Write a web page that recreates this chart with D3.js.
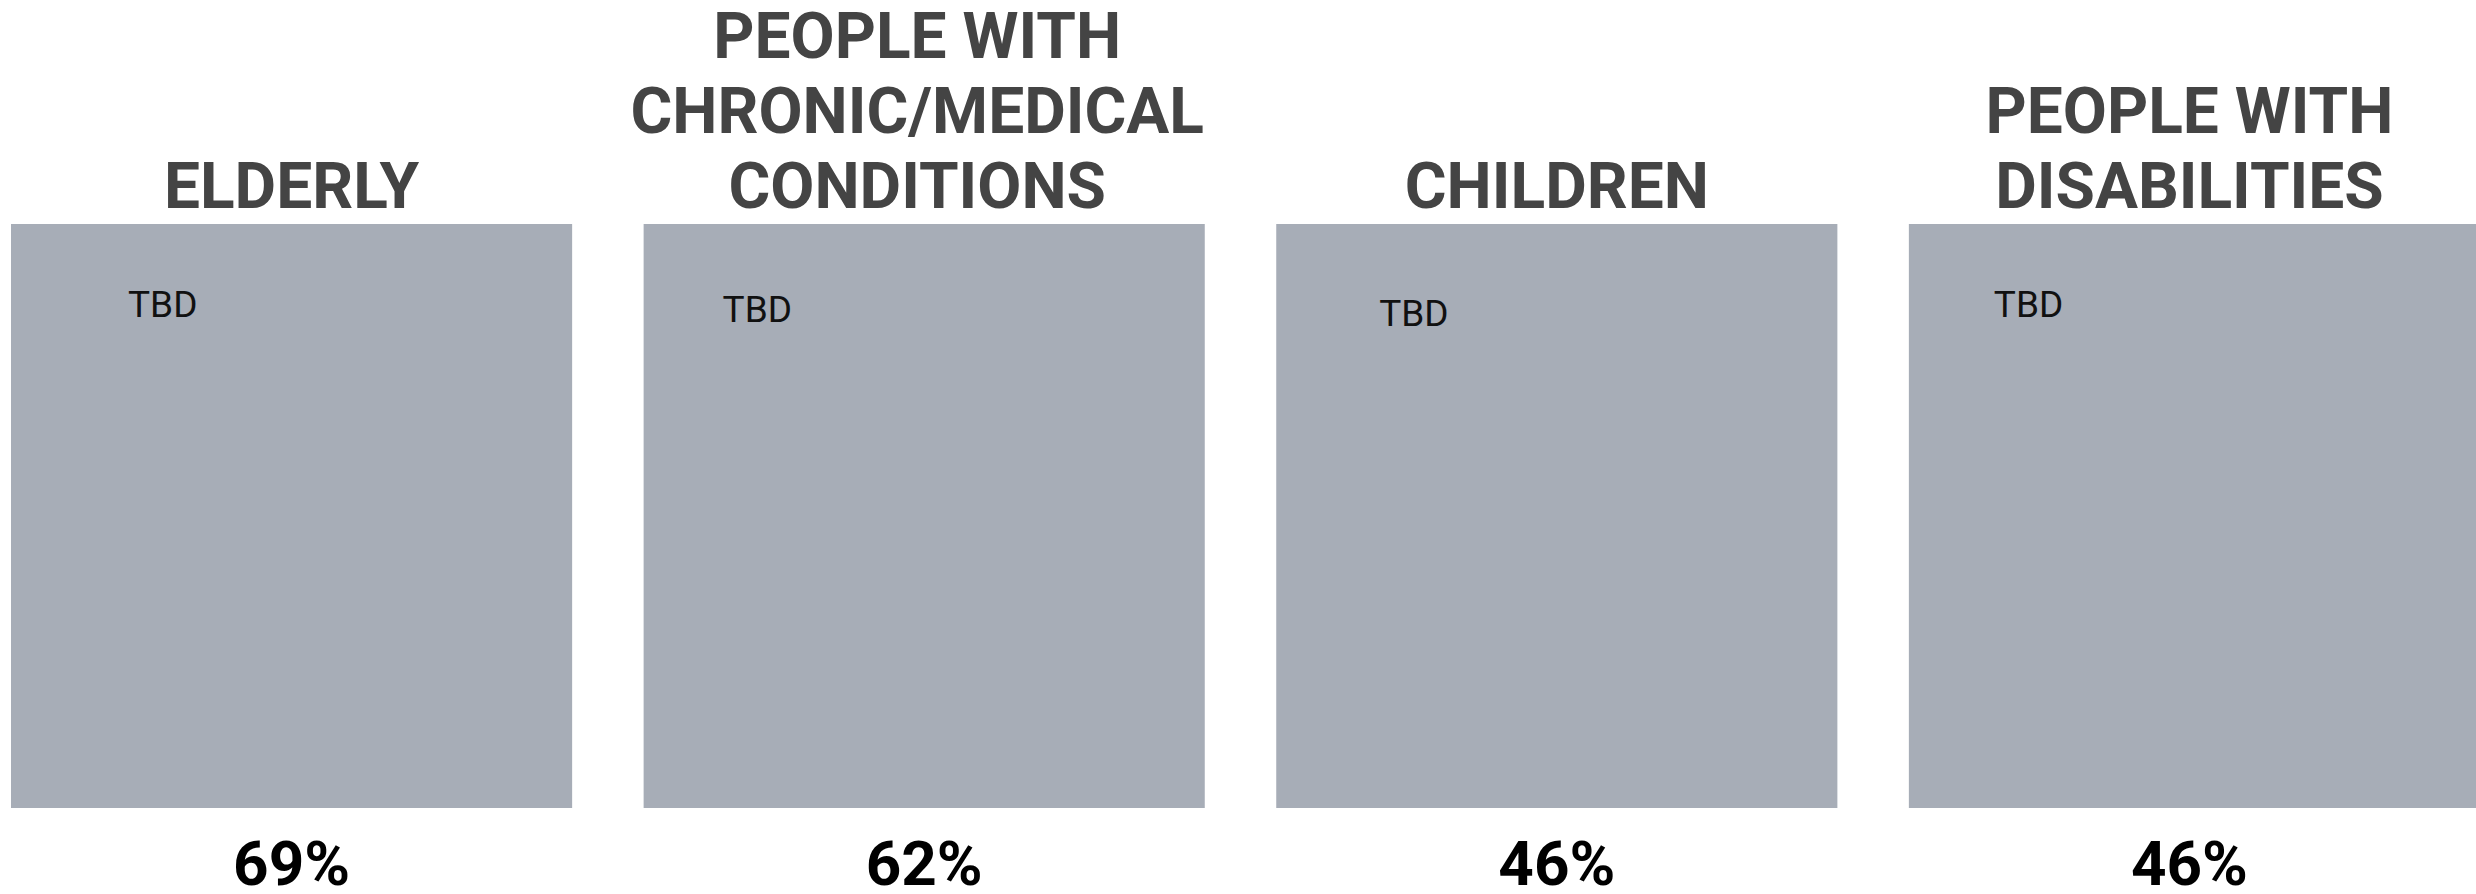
<!DOCTYPE html>
<html>
<head>
<meta charset="utf-8">
<script src="https://cdn.jsdelivr.net/npm/d3@7"></script>
<style>
  html, body { margin: 0; padding: 0; background: #ffffff; }
  svg { display: block; }
</style>
</head>
<body>
<svg id="chart" width="2476" height="894"></svg>
<script>
// ---- data ----
const categories = ["ELDERLY", "PEOPLE WITH CHRONIC/MEDICAL CONDITIONS", "CHILDREN", "PEOPLE WITH DISABILITIES"];
const titleLines = [
  ["ELDERLY"],
  ["PEOPLE WITH", "CHRONIC/MEDICAL", "CONDITIONS"],
  ["CHILDREN"],
  ["PEOPLE WITH", "DISABILITIES"]
];
const values = [69, 62, 46, 46];
const valueLabels = ["69%", "62%", "46%", "46%"];
const innerLabels = ["TBD", "TBD", "TBD", "TBD"];

// ---- layout ----
const W = 2476, H = 894;
const svg = d3.select("#chart");

const x = d3.scaleBand()
  .domain(categories)
  .range([11, 2470])
  .paddingInner(0.113)
  .paddingOuter(0);

const y = d3.scaleLinear().domain([0, 1]).range([808, 224]);

// label placement inside tiles (offset from tile left, baseline)
const tbdDx = [117, 79, 103, 85];
const tbdY = [317, 322, 326, 317];
const titleDx = [0, -7, 0, 0];

const g = svg.append("g");

const tiles = g.selectAll("g.tile")
  .data(categories)
  .join("g")
  .attr("class", "tile");

tiles.append("rect")
  .attr("x", d => x(d))
  .attr("y", y(1))
  .attr("width", (d, i) => i === categories.length - 1 ? W - x(d) : x.bandwidth())
  .attr("height", y(0) - y(1))
  .attr("fill", "#a7adb7");

// titles
const lineH = 75;
const lastBase = 208;
tiles.append("text")
  .attr("text-anchor", "middle")
  .attr("font-family", "Roboto, 'Open Sans', sans-serif")
  .attr("font-weight", 700)
  .attr("font-size", 64)
  .attr("fill", "#444444")
  .each(function(d, i) {
    const lines = titleLines[i];
    const t = d3.select(this);
    lines.forEach((ln, j) => {
      t.append("tspan")
        .attr("x", x(d) + x.bandwidth() / 2 + titleDx[i])
        .attr("y", lastBase - (lines.length - 1 - j) * lineH)
        .text(ln);
    });
  });

// inner labels
tiles.append("text")
  .attr("x", (d, i) => x(d) + tbdDx[i])
  .attr("y", (d, i) => tbdY[i])
  .attr("font-family", "Roboto, sans-serif")
  .attr("font-size", 37)
  .attr("fill", "#111111")
  .text((d, i) => innerLabels[i]);

// value labels
tiles.append("text")
  .attr("x", d => x(d) + x.bandwidth() / 2)
  .attr("y", 885)
  .attr("text-anchor", "middle")
  .attr("font-family", "Roboto, sans-serif")
  .attr("font-weight", 700)
  .attr("font-size", 62)
  .attr("fill", "#000000")
  .text((d, i) => valueLabels[i]);
</script>
</body>
</html>
